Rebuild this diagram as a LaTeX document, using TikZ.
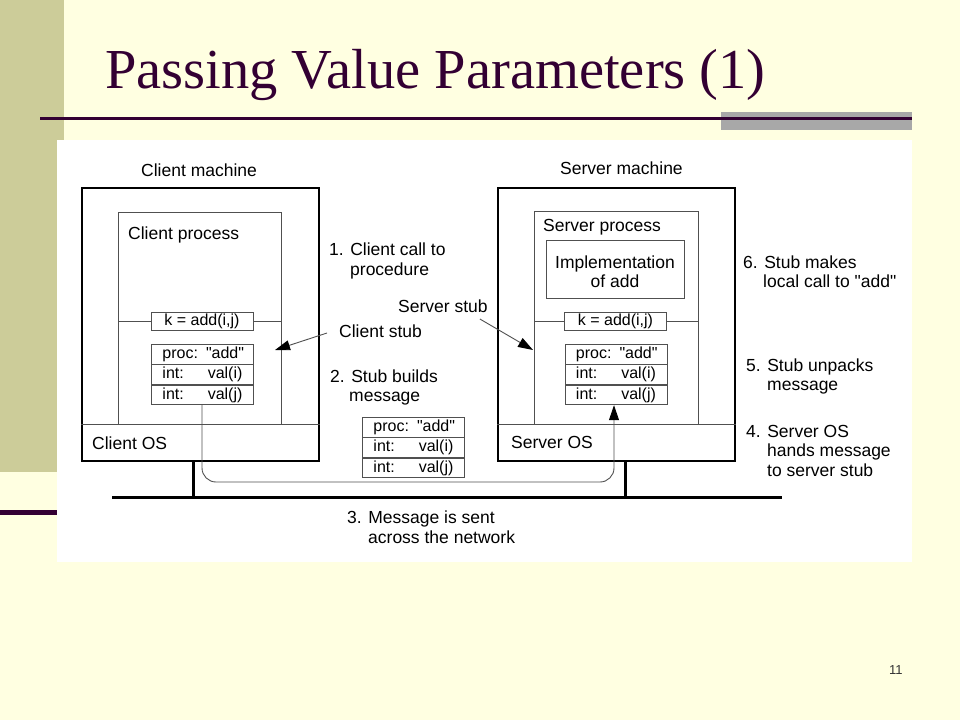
\documentclass[tikz,border=0pt]{standalone}
\usepackage{fontspec}
\setmainfont{Liberation Serif}
\newfontfamily\diagfont{Liberation Sans}
\usetikzlibrary{positioning,arrows.meta}
\definecolor{slidebg}{RGB}{255,255,225}
\definecolor{olivebar}{RGB}{204,204,153}
\definecolor{plum}{RGB}{51,0,51}
\definecolor{rulegray}{RGB}{168,168,168}
\definecolor{thingray}{RGB}{80,80,80}
\tikzset{
  lbl/.style={anchor=base west,inner sep=0pt,font=\diagfont\fontsize{17.5}{20}\selectfont},
  machine/.style={draw=black,line width=2pt,anchor=north west,minimum width=237pt,minimum height=273pt,inner sep=0pt},
  procbox/.style={draw=thingray,line width=0.9pt,anchor=north west,inner sep=0pt},
  stubbox/.style={draw=thingray,line width=0.9pt,minimum width=102pt,minimum height=18pt,inner sep=0pt,font=\diagfont\fontsize{16}{18}\selectfont},
  msgrow/.style={draw=thingray,line width=0.9pt,minimum width=102pt,minimum height=19.5pt,text width=80pt,inner xsep=0pt,inner ysep=0pt,align=center,font=\diagfont\fontsize{16}{18}\selectfont},
  thin/.style={draw=thingray,line width=0.9pt},
  net/.style={draw=black,line width=3pt},
  pointer/.style={thin,-{Triangle[length=15pt,width=10pt,color=black]}},
}
\newcommand{\msgbox}[2]{%
  \node[msgrow,anchor=north west] (#1-p) at (#2) {\mbox{proc: "add"}};
  \node[msgrow,below=0pt of #1-p] (#1-i) {int:\hfill val(i)};
  \node[msgrow,below=0pt of #1-i] (#1-j) {int:\hfill val(j)};
}
\begin{document}
\begin{tikzpicture}[x=1pt,y=-1pt]
  \useasboundingbox (0,0) rectangle (960,720);
  \fill[slidebg] (0,0) rectangle (960,720);
  \fill[olivebar] (0,0) rectangle (64,472);
  \fill[plum] (0,510) rectangle (60,515);
  \fill[rulegray] (721,112) rectangle (912,130);
  \fill[plum] (40,117) rectangle (912,120);
  \node[anchor=base west,inner sep=0pt,text=plum,font=\fontsize{56.5}{60}\selectfont] (title) at (105,88) {Passing Value Parameters (1)};
  \fill[white] (57,140) rectangle (912,562);

  \begin{scope}[every node/.append style={text=black}]
    \node[machine] (cm) at (81,187) {};
    \node[machine] (sm) at (497,187) {};
    \node[procbox,minimum width=163pt,minimum height=212pt] (cp) at (118,212) {};
    \node[procbox,minimum width=164pt,minimum height=213pt] (sp) at (534,211) {};
    \node[procbox,minimum width=138pt,minimum height=58pt] (impl) at (546,240) {};
    \node[stubbox] (ck) at (202,321) {k = add(i,j)};
    \node[stubbox] (sk) at (615.5,321) {k = add(i,j)};
    \msgbox{cmsg}{151,344}
    \msgbox{smsg}{564.5,344}
    \msgbox{tmsg}{362,417}
  \end{scope}

  \coordinate (os) at (0,424);
  \draw[thin] (cm.west |- os) -- (cm.east |- os);
  \draw[thin] (sm.west |- os) -- (sm.east |- os);
  \draw[thin] (cp.west |- ck.west) -- (ck.west);
  \draw[thin] (ck.east) -- (cp.east |- ck.east);
  \draw[thin] (sp.west |- sk.west) -- (sk.west);
  \draw[thin] (sk.east) -- (sp.east |- sk.east);

  \coordinate (netL) at (112,497);
  \coordinate (netR) at (782,497);
  \coordinate (cnet) at (193,497);
  \coordinate (snet) at (625,497);
  \draw[net] (netL) -- (netR);
  \draw[net] (cm.south -| cnet) -- (cnet);
  \draw[net] (sm.south -| snet) -- (snet);

  \node[lbl] (cmlbl) at (141,176) {Client machine};
  \node[lbl] (smlbl) at (560,174) {Server machine};
  \node[lbl] (cplbl) at (128,239) {Client process};
  \node[lbl] (splbl) at (543,231) {Server process};
  \node[lbl,anchor=base] (impla) at (615,268) {Implementation};
  \node[lbl,anchor=base] (implb) at (615,287) {of add};
  \node[lbl] (coslbl) at (92,449) {Client OS};
  \node[lbl] (soslbl) at (511,448) {Server OS};
  \node[lbl] (step1a) at (329,255) {1. Client call to};
  \node[lbl] (step1b) at (350,275) {procedure};
  \node[lbl] (sstub) at (398,312) {Server stub};
  \node[lbl] (cstub) at (339,337) {Client stub};
  \node[lbl] (step2a) at (330,382) {2. Stub builds};
  \node[lbl] (step2b) at (349,401) {message};
  \node[lbl] (step3a) at (347,523) {3. Message is sent};
  \node[lbl] (step3b) at (368,543) {across the network};
  \node[lbl] (step4a) at (746,437) {4. Server OS};
  \node[lbl] (step4b) at (767,456) {hands message};
  \node[lbl] (step4c) at (767,476) {to server stub};
  \node[lbl] (step5a) at (746,371) {5. Stub unpacks};
  \node[lbl] (step5b) at (767,390) {message};
  \node[lbl] (step6a) at (743,268) {6. Stub makes};
  \node[lbl] (step6b) at (763,287) {local call to "add"};

  \coordinate (ctip) at (275,350);
  \coordinate (stip) at (533,350);
  \coordinate (cdrop) at (202,0);
  \coordinate (sdrop) at (614,0);
  \draw[pointer] ([shift={(-12pt,4pt)}]cstub.base west) -- (ctip);
  \draw[pointer] ([shift={(-8pt,-7pt)}]sstub.base east) -- (stip);
  \draw[pointer,rounded corners=14pt] (cmsg-j.south -| cdrop) |- (614,482) -- (smsg-j.south -| sdrop);

  \node[anchor=base west,inner sep=0pt,text=black!80,font=\diagfont\fontsize{13}{15}\selectfont] (pagenum) at (889,674) {11};
\end{tikzpicture}
\end{document}
